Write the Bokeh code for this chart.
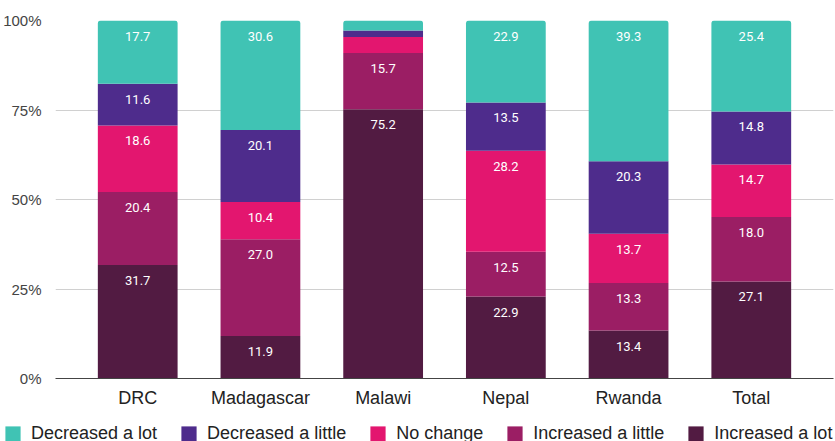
import numpy as np
from bokeh.plotting import figure
from bokeh.layouts import column
from bokeh.models import (FactorRange, Range1d, FixedTicker, PrintfTickFormatter,
                          Legend, LegendItem, ColumnDataSource)
from bokeh.core.properties import value
from bokeh.embed import file_html
from bokeh.resources import INLINE

# Share of respondents per country, stacked bottom to top
countries = ["DRC", "Madagascar", "Malawi", "Nepal", "Rwanda", "Total"]
increased_a_lot = [31.7, 11.9, 75.2, 22.9, 13.4, 27.1]
increased_a_little = [20.4, 27.0, 15.7, 12.5, 13.3, 18.0]
no_change = [18.6, 10.4, 4.5, 28.2, 13.7, 14.7]
decreased_a_little = [11.6, 20.1, 1.8, 13.5, 20.3, 14.8]
decreased_a_lot = [17.7, 30.6, 2.8, 22.9, 39.3, 25.4]

series_names = ["Increased a lot", "Increased a little", "No change",
                "Decreased a little", "Decreased a lot"]
series_keys = ["inc_lot", "inc_little", "no_change", "dec_little", "dec_lot"]
series_colors = ["#521B42", "#9B1E64", "#E3166F", "#4E2C8C", "#40C3B4"]
y_ticks = [0, 25, 50, 75, 100]

data = dict(country=countries, inc_lot=increased_a_lot, inc_little=increased_a_little,
            no_change=no_change, dec_little=decreased_a_little, dec_lot=decreased_a_lot)
source = ColumnDataSource(data)

p = figure(width=835, height=412, output_backend="svg", toolbar_location=None,
           x_range=FactorRange(factors=countries, range_padding=0.17,
                               range_padding_units="absolute"),
           y_range=Range1d(0, 100), frame_align=False,
           min_border_left=53, min_border_right=2, min_border_top=20, min_border_bottom=34)
p.outline_line_color = None
p.background_fill_color = "white"
p.border_fill_color = "white"

renderers = p.vbar_stack(series_keys, x="country", width=0.65, source=source,
                         color=series_colors, line_color=None)
renderers[-1].glyph.border_radius = (3, 3, 0, 0)

# Value labels at the top of every segment large enough to hold one
lx, ly, lt = [], [], []
cum = np.zeros(len(countries))
for key in series_keys:
    vals = np.array(data[key], dtype=float)
    cum = cum + vals
    for c, v, top in zip(countries, vals, cum):
        if v >= 5:
            lx.append(c)
            ly.append(float(top))
            lt.append(f"{v:.1f}")
p.text(x=lx, y=ly, text=lt, text_color="white", text_font=value("Roboto"),
       text_font_size="13px", text_align="center", text_baseline="top", y_offset=11)

# Axes
p.yaxis.ticker = FixedTicker(ticks=y_ticks)
p.yaxis.formatter = PrintfTickFormatter(format="%d%%")
p.yaxis.axis_line_color = None
p.yaxis.major_tick_line_color = None
p.yaxis.minor_tick_line_color = None
p.yaxis.major_label_text_font = "Liberation Sans"
p.yaxis.major_label_text_font_size = "15px"
p.yaxis.major_label_text_color = "#444444"
p.yaxis.major_label_standoff = 8

p.xaxis.axis_line_color = "#444444"
p.xaxis.major_tick_line_color = None
p.xaxis.minor_tick_line_color = None
p.xaxis.major_label_text_font = "Liberation Sans"
p.xaxis.major_label_text_font_size = "18px"
p.xaxis.major_label_text_color = "#222222"
p.xaxis.major_label_standoff = 3

p.xgrid.grid_line_color = None
p.ygrid.grid_line_color = "#d0d0d0"
p.ygrid.ticker = FixedTicker(ticks=y_ticks)

# Legend strip under the chart, with swatches in the series colours
lg = figure(width=835, height=29, output_backend="svg", toolbar_location=None,
            x_range=Range1d(0, 1), y_range=Range1d(0, 1), frame_align=False,
            x_axis_location=None, y_axis_location=None,
            min_border_left=0, min_border_right=0, min_border_top=0, min_border_bottom=0)
lg.grid.visible = False
lg.outline_line_color = None
swatches = [lg.vbar(x=[np.nan], top=[np.nan], width=0.5, color=c, line_color=None)
            for c in series_colors]
items = [LegendItem(label=name, renderers=[r]) for name, r in zip(series_names, swatches)]
legend = Legend(items=items[::-1], orientation="horizontal", location=(3, -3),
                glyph_width=19, glyph_height=19, label_standoff=9, spacing=22,
                padding=0, margin=0, border_line_color=None, background_fill_alpha=0,
                label_text_font="Liberation Sans", label_text_font_size="18px",
                label_text_color="#222222")
lg.add_layout(legend, "center")

open("out.html", "w").write(file_html(column(p, lg, spacing=0), INLINE))
